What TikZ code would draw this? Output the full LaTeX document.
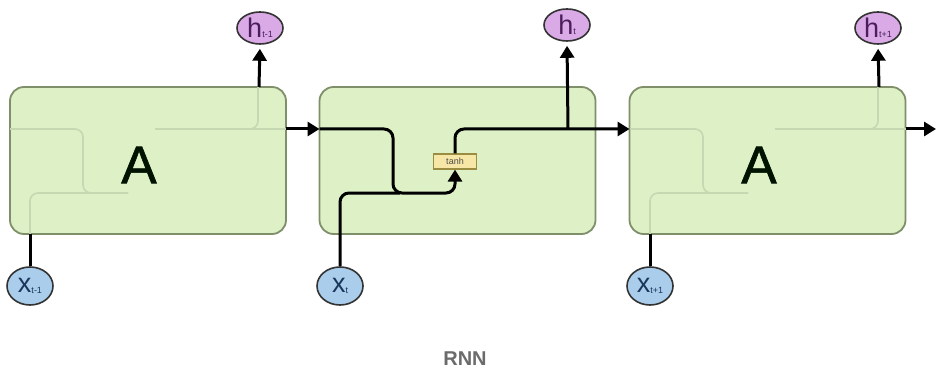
\documentclass[tikz,border=0pt]{standalone}
\usepackage{fontspec}
\setmainfont{Liberation Sans}
\newfontfamily\heavysans[FakeBold=1.2]{Liberation Sans}
\usetikzlibrary{shapes.geometric,arrows.meta}
\definecolor{cellfill}{HTML}{DDF0C6}
\definecolor{celldraw}{HTML}{7F8F6A}
\definecolor{ghost}{HTML}{C6D8B2}
\definecolor{hfill}{HTML}{D9AAE6}
\definecolor{htext}{HTML}{4A1E5C}
\definecolor{xfill}{HTML}{A9CDEA}
\definecolor{xtext}{HTML}{1A365C}
\definecolor{tanhfill}{HTML}{F7E7A6}
\definecolor{tanhdraw}{HTML}{9A8C40}
\definecolor{captiongray}{HTML}{6B6B6B}
\newcommand{\sublabel}[2]{{\fontsize{27}{27}\selectfont #1}\raisebox{-0.5pt}{\fontsize{9}{9}\selectfont #2}}
\begin{document}
\begin{tikzpicture}[x=1pt,y=-1pt,
  cell/.style={draw=celldraw, fill=cellfill, line width=1.8pt, rounded corners=14pt,
    minimum width=276pt, minimum height=147pt, inner sep=0pt},
  bigA/.style={font=\heavysans\fontsize{53}{53}\selectfont, text=black!85!green!50!black},
  hstate/.style={ellipse, draw=black!80, fill=hfill, line width=1.6pt,
    minimum width=46pt, minimum height=32pt, inner sep=0pt, text=htext},
  xinput/.style={ellipse, draw=black!80, fill=xfill, line width=1.6pt,
    minimum width=46pt, minimum height=38pt, inner sep=0pt, text=xtext},
  tanhbox/.style={draw=tanhdraw, fill=tanhfill, line width=1.2pt, minimum width=43pt,
    minimum height=15pt, inner sep=0pt, font=\fontsize{9}{9}\selectfont, text=black!70},
  wire/.style={line width=3pt, rounded corners=9pt},
  tip/.style={-{Triangle[length=12pt,width=14pt]}},
  ghostwire/.style={draw=ghost, line width=1.6pt, rounded corners=8pt}]
\useasboundingbox (0,0) rectangle (936,374);

% three unrolled cells
\node[cell] (box1) at (148,160.5) {};
\node[cell] (box2) at (457.5,160.5) {};
\node[cell] (box3) at (767.5,160.5) {};

% faint internal wiring of the folded cells
\foreach \L/\R in {10/286,630/906}{
  \draw[ghostwire] (\L,129) -- (\L+73,129) -- (\L+73,193) -- (\L+118,193);
  \draw[ghostwire] (\L+20,234) -- (\L+20,193) -- (\L+118,193);
  \draw[ghostwire] (\L+145,129) -- (\L+248,129) -- (\L+248,87);
  \draw[ghostwire] (\L+235,129) -- (\R,129);
}
\node[bigA] (A1) at (139,165) {A};
\node[bigA] (A3) at (759,165) {A};

% inputs and outputs
\node[hstate] (h1) at (260,28) {\sublabel{h}{t-1}};
\node[hstate] (h2) at (567,25) {\sublabel{h}{t}};
\node[hstate] (h3) at (878,28) {\sublabel{h}{t+1}};
\node[xinput] (x1) at (30,286) {\sublabel{x}{t-1}};
\node[xinput] (x2) at (340,286) {\sublabel{x}{t}};
\node[xinput] (x3) at (650,286) {\sublabel{x}{t+1}};

\node[tanhbox] (tanh) at (455,161.5) {tanh};

% connection points on the cell borders
\coordinate (out1) at (286,129);
\coordinate (in2) at (319.5,129);
\coordinate (in3) at (629.5,129);
\coordinate (out3) at (905.5,129);
\coordinate (end) at (936,129);
\coordinate (top1) at (259,87);
\coordinate (top3) at (879,87);
\coordinate (bot1) at (30,234);
\coordinate (bot3) at (650,234);
\coordinate (split) at (568,129);

% folded cells
\draw[wire,tip,shorten >=4pt] (top1) -- (h1.south);
\draw[wire] (x1.north) -- (bot1);
\draw[wire,tip,shorten >=4pt] (top3) -- (h3.south);
\draw[wire] (x3.north) -- (bot3);

% state passed between cells
\draw[wire,tip] (out1) -- (in2);
\draw[wire,tip] (out3) -- (end);

% unrolled cell
\draw[wire,tip] (in2) -- (393,129) -- (393,193) -- (455,193) -- (tanh.south);
\draw[wire] (x2.north) -- (340,193) -- (400,193);
\draw[wire,tip] (tanh.north) -- (455,129) -- (in3);
\draw[wire,tip,shorten >=4pt] (split) -- (h2.south);

\node[font=\bfseries\fontsize{20}{20}\selectfont, text=captiongray] (caption) at (465,359) {RNN};
\end{tikzpicture}
\end{document}
